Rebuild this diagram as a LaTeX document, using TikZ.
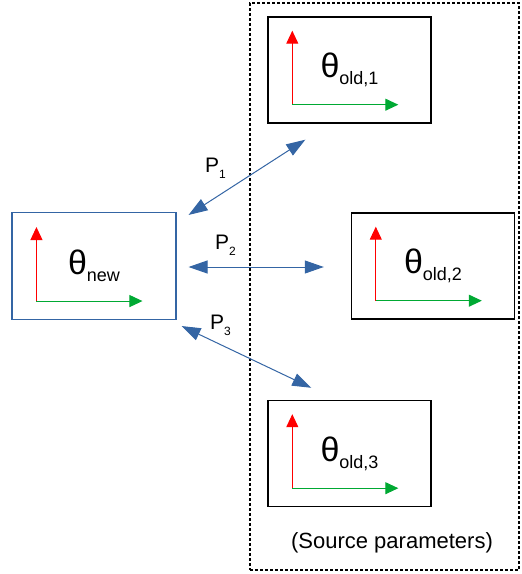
\documentclass[tikz,border=0pt]{standalone}
\usepackage{fontspec}
\setmainfont{Liberation Sans}
\usetikzlibrary{arrows.meta}
\definecolor{linkblue}{HTML}{3465A4}
\definecolor{axisred}{HTML}{FF0000}
\definecolor{axisgreen}{HTML}{00A933}
\tikzstyle{parambox} = [draw,line width=1.4pt,minimum width=163pt,minimum height=106pt,inner sep=0pt]
\tikzstyle{newbox} = [parambox,draw=linkblue,line width=1.1pt,minimum width=164pt,minimum height=107pt]
\tikzstyle{sourcebox} = [draw,line width=1.2pt,dash pattern=on 3pt off 2pt,minimum width=269pt,minimum height=567pt]
\tikzstyle{link} = [linkblue,line width=1pt,{Triangle[length=19pt,width=13pt]}-{Triangle[length=19pt,width=13pt]}]
\tikzstyle{yaxis} = [axisred,line width=1pt,-{Triangle[length=13pt,width=12pt]}]
\tikzstyle{xaxis} = [axisgreen,line width=1pt,-{Triangle[length=13pt,width=12pt]}]
\tikzstyle{plabel} = [anchor=base west,inner sep=0pt]
\newcommand{\thetasub}[1]{{\fontsize{34}{40}\selectfont θ}\raisebox{-7pt}{\fontsize{18}{20}\selectfont #1}}
\newcommand{\psub}[1]{{\fontsize{21}{24}\selectfont P}\raisebox{-6pt}{\fontsize{12}{14}\selectfont #1}}

\begin{document}
\begin{tikzpicture}[x=1pt,y=-1pt]
	\useasboundingbox (0,0) rectangle (522,574);

	\node[sourcebox] (source) at (384.5,286.5) {};
	\node (caption) at (392,543) {\fontsize{22}{26}\selectfont (Source parameters)};

	\node[newbox] (new) at (94,266) {\thetasub{new}};
	\node[parambox] (old1) at (349.5,70) {\thetasub{old,1}};
	\node[parambox] (old2) at (433,266) {\thetasub{old,2}};
	\node[parambox] (old3) at (349.5,453.5) {\thetasub{old,3}};

	\foreach \b in {new,old1,old2,old3} {
		\coordinate (\b-o) at ([shift={(25,-19)}]\b.south west);
		\draw[yaxis] (\b-o) -- ++(0,-74);
		\draw[xaxis] (\b-o) -- ++(106,0);
	}

	\coordinate (p1a) at ([shift={(12,3)}]new.north east);
	\coordinate (p1b) at ([shift={(38,16)}]old1.south west);
	\coordinate (p2a) at ([shift={(12,1)}]new.east);
	\coordinate (p2b) at ([shift={(-27,1)}]old2.west);
	\coordinate (p3a) at ([shift={(5,6)}]new.south east);
	\coordinate (p3b) at ([shift={(44,-12)}]old3.north west);

	\draw[link] (p1a) -- (p1b);
	\draw[link] (p2a) -- (p2b);
	\draw[link] (p3a) -- (p3b);

	\node[plabel] (l1) at (205,172) {\psub{1}};
	\node[plabel] (l2) at (215,249) {\psub{2}};
	\node[plabel] (l3) at (210,329) {\psub{3}};

\end{tikzpicture}
\end{document}
